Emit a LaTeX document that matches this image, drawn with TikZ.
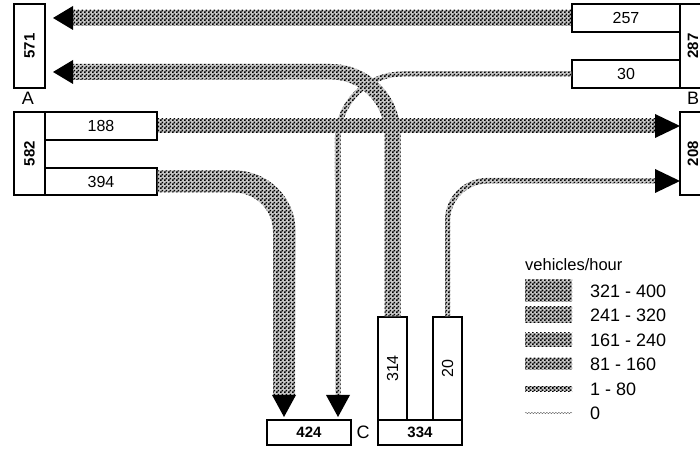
\documentclass[tikz,border=0pt]{standalone}
\usepackage{fontspec}
\setmainfont{Liberation Sans}
\usepackage{graphicx}
\usetikzlibrary{patterns,decorations.pathmorphing}

\pgfdeclarepatternformonly{finechecker}{\pgfpointorigin}{\pgfqpoint{4pt}{4pt}}{\pgfqpoint{4pt}{4pt}}{%
  \pgfpathrectangle{\pgfpointorigin}{\pgfqpoint{2pt}{2pt}}%
  \pgfpathrectangle{\pgfqpoint{2pt}{2pt}}{\pgfqpoint{2pt}{2pt}}%
  \pgfusepath{fill}}

\tikzset{
  box/.style={draw, line width=1.2pt, inner sep=0pt, font=\fontsize{16}{18}\selectfont},
  boldbox/.style={box, font=\fontsize{15}{17}\selectfont\bfseries},
  band/.style={preaction={fill=gray!45}, pattern=finechecker, pattern color=black},
  tip/.style={fill=black},
  place/.style={inner sep=0pt, font=\fontsize{18}{20}\selectfont},
  legtext/.style={place, anchor=west}
}

\begin{document}
\begin{tikzpicture}[x=1pt,y=1pt]
    \useasboundingbox (0,0) rectangle (700,449);
    \fill[white] (0,0) rectangle (700,449);
    % A
    \node[boldbox, minimum width=31, minimum height=84] (a571) at (29.5,403) {\rotatebox{90}{571}};
    \node[place] (labA) at (28,351) {A};
    \node[boldbox, minimum width=31, minimum height=83] (a582) at (29.5,295.5) {\rotatebox{90}{582}};
    \node[box, minimum width=112, minimum height=28] (b188) at (101,323) {188};
    \node[box, minimum width=112, minimum height=27] (b394) at (101,267.5) {394};
    % B
    \node[boldbox, minimum width=26, minimum height=84] (b287) at (693,403) {\rotatebox{90}{287}};
    \node[box, minimum width=108, minimum height=28] (b257) at (626,431) {257};
    \node[box, minimum width=108, minimum height=28] (b30) at (626,375) {30};
    \node[place] (labB) at (693,351) {B};
    \node[boldbox, minimum width=26, minimum height=83] (b208) at (693,295.5) {\rotatebox{90}{208}};
    % C
    \node[boldbox, minimum width=84, minimum height=25] (c424) at (309,16.5) {424};
    \node[place] (labC) at (363,17) {C};
    \node[boldbox, minimum width=84, minimum height=25] (c334) at (420,16.5) {334};
    \node[box, minimum width=29, minimum height=103] (c314) at (392.5,80.5) {\rotatebox{90}{314}};
    \node[box, minimum width=29, minimum height=103] (c20) at (447.5,80.5) {\rotatebox{90}{20}};

    % arrow tips
    \coordinate (tA1) at (53,431); \coordinate (tA2) at (53,377);
    \coordinate (tB1) at (680,323); \coordinate (tB2) at (680,268);
    \coordinate (tC1) at (284,32); \coordinate (tC2) at (338,32);

    % flows
    \fill[band] ([yshift=-8pt]b257.west) rectangle ([xshift=20pt,yshift=8pt]tA1);
    \fill[band] ([xshift=-8pt]c314.north) -- ++(0,183) arc[start angle=0,end angle=90,radius=54]
        -- ([xshift=20pt,yshift=-8pt]tA2) -- ++(0,16) -- ++(257.5,0)
        arc[start angle=90,end angle=0,radius=70] -- ([xshift=8pt]c314.north) -- cycle;
    \fill[band] ([yshift=2.5pt]b30.west) -- ++(-169,0) arc[start angle=90,end angle=180,radius=67.5]
        -- ([xshift=-2.5pt,yshift=22pt]tC2) -- ++(5,0) -- ++(0,256)
        arc[start angle=180,end angle=90,radius=62.5] -- ([yshift=-2.5pt]b30.west) -- cycle;
    \fill[band] ([yshift=7pt]b188.east) rectangle ([xshift=-25pt,yshift=-7pt]tB1);
    \fill[band] ([yshift=11pt]b394.east) -- ++(77,0) arc[start angle=90,end angle=0,radius=61]
        -- ([xshift=11pt,yshift=22pt]tC1) -- ++(-22,0) -- ++(0,163.5)
        arc[start angle=0,end angle=90,radius=39] -- ([yshift=-11pt]b394.east) -- cycle;
    \fill[band] ([xshift=-2.5pt]c20.north) -- ++(0,96) arc[start angle=180,end angle=90,radius=42.5]
        -- ([xshift=-25pt,yshift=2.5pt]tB2) -- ++(0,-5) -- ++(-167.5,0)
        arc[start angle=90,end angle=180,radius=37.5] -- ([xshift=2.5pt]c20.north) -- cycle;

    \fill[tip] (tA1) -- ++(20,12) -- ++(0,-24) -- cycle;
    \fill[tip] (tA2) -- ++(20,12) -- ++(0,-24) -- cycle;
    \fill[tip] (tB1) -- ++(-25,12) -- ++(0,-24) -- cycle;
    \fill[tip] (tB2) -- ++(-25,12) -- ++(0,-24) -- cycle;
    \fill[tip] (tC1) -- ++(-12,22) -- ++(24,0) -- cycle;
    \fill[tip] (tC2) -- ++(-12,22) -- ++(24,0) -- cycle;

    % legend
    \node[inner sep=0pt, anchor=west, font=\fontsize{16.5}{18}\selectfont] (legtitle) at (525,184) {vehicles/hour};
    \foreach \yc/\hh/\txt [count=\i] in {158/11/321 - 400, 134/8/241 - 320, 109/7/161 - 240, 85/6/81 - 160, 60/2.5/1 - 80}{
        \fill[band] (525,\yc-\hh) rectangle (572,\yc+\hh);
        \node[legtext] (leg\i) at (590,\yc) {\txt};
    }
    \draw[gray!80!black, decorate, decoration={snake, amplitude=0.7pt, segment length=3pt}] (525,36) -- (572,36);
    \node[legtext] (leg6) at (590,36) {0};
\end{tikzpicture}
\end{document}
